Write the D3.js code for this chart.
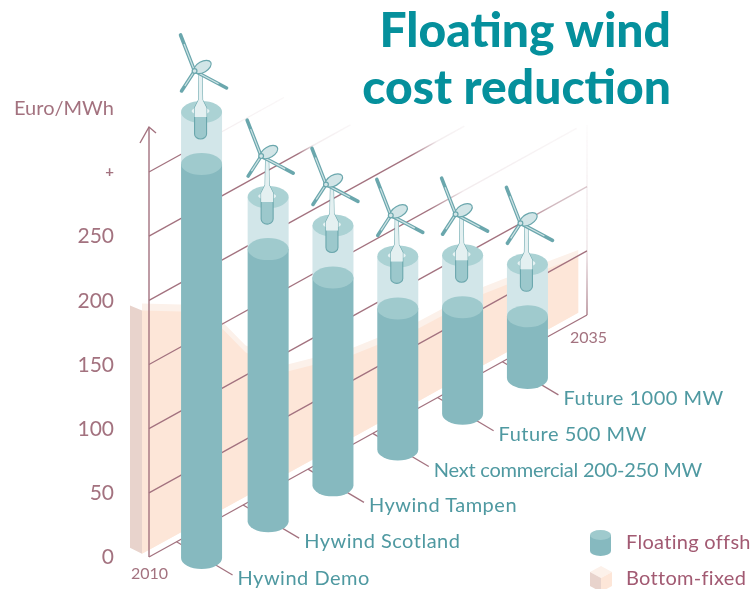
<!DOCTYPE html>
<html>
<head>
<meta charset="utf-8">
<script src="https://cdnjs.cloudflare.com/ajax/libs/d3/7.8.5/d3.min.js"></script>
<style>
  html, body { margin: 0; padding: 0; background: #fff; overflow: hidden; }
  text { font-family: Lato, sans-serif; }
</style>
</head>
<body>
<div id="chart"></div>
<script>
// Data
const projects = ["Hywind Demo", "Hywind Scotland", "Hywind Tampen", "Next commercial 200-250 MW", "Future 500 MW", "Future 1000 MW"];
const projectYears = [2013.0, 2016.8, 2020.5, 2024.2, 2027.9, 2031.6];
const floatingCost = [307, 212, 162, 110, 83, 48];

const bottomFixedYears = [2009.6, 2012.9, 2014.2, 2015.5, 2017.9, 2021.6, 2025.4, 2029.1, 2032.8, 2034.5];
const bottomFixedCost = [195, 169, 146, 118, 85, 70, 62, 61, 53, 49];

const costTicks = [0, 50, 100, 150, 200, 250, 300];
const gridLevels = [50, 100, 150, 200, 250, 300];
const gridEndYears = [2035, 2035, 2034.4, 2028, 2021.5, 2017.7];
const gridFadeYears = [2035, 2031, 2026, 2025, 2018.5, 2012.2];
const yearLabels = [2010, 2035];
const titleLines = ["Floating wind", "cost reduction"];
// the source is cropped at the right edge, only this much of the legend is in frame
const legendLabels = ["Floating offsh", "Bottom-fixed"];

const width = 754, height = 589;

// Oblique projection: year runs up and to the right along the floor
const x = d3.scaleLinear().domain([2010, 2035]).range([149, 587]);
const floorY = d3.scaleLinear().domain([2010, 2035]).range([557, 315]);
const axisY = d3.scaleLinear().domain([0, 300]).range([557, 172]);
const rise = v => axisY(0) - axisY(v);

const teal = "#86b9bf", tealTop = "#9fcacd", ghost = "#d2e6e9", ghostTop = "#abd2d4", tealLine = "#6ba7ad";
const peach = "#fde6d8", peachTop = "#fcf1ea", peachSide = "#e8d3cc";
const mauve = "#a3727f", labelTeal = "#4f99a1";

const svg = d3.select("#chart").append("svg")
    .attr("width", width)
    .attr("height", height)
    .style("display", "block");

const defs = svg.append("defs");
defs.append("filter").attr("id", "soft")
    .append("feGaussianBlur").attr("stdDeviation", 0.45);

const chart = svg.append("g").attr("filter", "url(#soft)");

// Bottom-fixed band
const band = bottomFixedYears.map((year, i) => ({ year, cost: bottomFixedCost[i] }));
const bandTop = d3.area()
    .x(d => x(d.year))
    .y0(d => floorY(d.year) - 7)
    .y1(d => floorY(d.year) - rise(d.cost) - 7);
const bandFace = d3.area()
    .x(d => x(d.year))
    .y0(d => floorY(d.year) - 7)
    .y1(d => floorY(d.year) - rise(d.cost));

chart.append("path").datum(band).attr("d", bandTop).attr("fill", peachTop);
chart.append("path").datum(band).attr("d", bandFace).attr("fill", peach);

const first = band[0];
const sideLine = d3.line();
chart.append("path")
    .attr("d", sideLine([
        [x(first.year) - 12, floorY(first.year) - rise(first.cost) - 5],
        [x(first.year), floorY(first.year) - rise(first.cost)],
        [x(first.year), floorY(first.year) - 7],
        [x(first.year) - 12, floorY(first.year) - 13]
    ]) + "Z")
    .attr("fill", peachSide);

// Receding gridlines, they fade towards the back wall
gridLevels.forEach((level, i) => {
    const id = "gridFade" + level;
    const x0 = x(2010), x1 = x(gridEndYears[i]);
    const fade = (x(gridFadeYears[i]) - x0) / (x1 - x0);
    const grad = defs.append("linearGradient").attr("id", id)
        .attr("gradientUnits", "userSpaceOnUse")
        .attr("x1", x0).attr("x2", x1).attr("y1", 0).attr("y2", 0);
    grad.append("stop").attr("offset", 0).attr("stop-color", mauve);
    grad.append("stop").attr("offset", fade).attr("stop-color", mauve);
    grad.append("stop").attr("offset", Math.min(1, fade + 0.08)).attr("stop-color", mauve).attr("stop-opacity", level > 100 ? 0.14 : 0.5);
    grad.append("stop").attr("offset", 1).attr("stop-color", mauve).attr("stop-opacity", level > 100 ? 0.06 : 0.4);

    chart.append("line")
        .attr("x1", x0).attr("y1", axisY(level))
        .attr("x2", x1).attr("y2", axisY(level) - (floorY(2010) - floorY(gridEndYears[i])))
        .attr("stroke", `url(#${id})`)
        .attr("stroke-width", 1.3);
});

// Floor line and back wall
chart.append("line")
    .attr("x1", x(2010)).attr("y1", floorY(2010))
    .attr("x2", x(2035)).attr("y2", floorY(2035))
    .attr("stroke", mauve).attr("stroke-width", 1.3);

const wallGrad = defs.append("linearGradient").attr("id", "wallFade")
    .attr("gradientUnits", "userSpaceOnUse")
    .attr("x1", 0).attr("x2", 0).attr("y1", floorY(2035)).attr("y2", 125);
wallGrad.append("stop").attr("offset", 0).attr("stop-color", mauve);
wallGrad.append("stop").attr("offset", 0.35).attr("stop-color", mauve).attr("stop-opacity", 0.2);
wallGrad.append("stop").attr("offset", 1).attr("stop-color", mauve).attr("stop-opacity", 0.03);

chart.append("rect")
    .attr("x", x(2035) - 0.65).attr("y", 125)
    .attr("width", 1.3).attr("height", floorY(2035) - 125)
    .attr("fill", "url(#wallFade)");

// Cost axis
const yAxis = d3.axisLeft(axisY)
    .tickValues(costTicks)
    .tickSize(0)
    .tickPadding(35)
    .tickFormat(d => d === 300 ? "+" : d);

const axisG = chart.append("g")
    .attr("transform", `translate(${x(2010)},0)`)
    .call(yAxis);
axisG.select(".domain").remove();
axisG.selectAll("text")
    .attr("font-size", d => d === 300 ? 15 : 21)
    .attr("font-weight", d => d === 300 ? 700 : 400)
    .attr("font-family", "Lato, sans-serif")
    .attr("fill", mauve);

chart.append("line")
    .attr("x1", x(2010)).attr("y1", floorY(2010))
    .attr("x2", x(2010)).attr("y2", 127)
    .attr("stroke", mauve).attr("stroke-width", 1.4);
chart.append("path")
    .attr("d", `M${x(2010) - 9},143 L${x(2010)},127 L${x(2010) + 7},133`)
    .attr("fill", "none").attr("stroke", mauve).attr("stroke-width", 1.4);

chart.append("text")
    .attr("x", 14).attr("y", 115)
    .attr("font-size", 20).attr("fill", mauve)
    .text("Euro/MWh");

chart.selectAll(".year-label")
    .data(yearLabels)
    .join("text")
    .attr("class", "year-label")
    .attr("x", d => d === 2010 ? 131 : 570)
    .attr("y", d => d === 2010 ? 579 : 343)
    .attr("font-size", 16)
    .attr("fill", mauve)
    .text(d => d);

// One cylinder per project
const rx = 20.5, ry = 11, ghostHeight = 52, floorOffset = 30;
const rows = projects.map((name, i) => {
    const cx = x(projectYears[i]);
    const base = floorY(projectYears[i]) + floorOffset;
    const top = base - rise(floatingCost[i]);
    return { name, cx, base, top, ghostY: top - ghostHeight };
});

// leader lines run behind the cylinders from the floor to the label
chart.selectAll(".leader")
    .data(rows)
    .join("line")
    .attr("class", "leader")
    .attr("x1", d => d.cx - 25)
    .attr("y1", d => floorY(x.invert(d.cx - 25)))
    .attr("x2", d => d.cx + 31)
    .attr("y2", d => d.base + 17)
    .attr("stroke", mauve)
    .attr("stroke-width", 1.3);

chart.selectAll(".project-label")
    .data(rows)
    .join("text")
    .attr("class", "project-label")
    .attr("x", d => d.cx + 36)
    .attr("y", d => d.base + 27)
    .attr("font-size", 20)
    .attr("letter-spacing", 0.5)
    .attr("textLength", d => d.name.startsWith("Next") ? 269 : null)
    .attr("fill", labelTeal)
    .text(d => d.name);

const cyl = chart.selectAll(".cylinder")
    .data(rows)
    .join("g")
    .attr("class", "cylinder")
    .attr("transform", d => `translate(${d.cx},0)`);

// ghost cylinder above the solid one
cyl.append("rect")
    .attr("x", -rx).attr("width", 2 * rx)
    .attr("y", d => d.ghostY)
    .attr("height", ghostHeight)
    .attr("fill", ghost);
cyl.append("ellipse")
    .attr("rx", rx).attr("ry", ry)
    .attr("cy", d => d.ghostY)
    .attr("fill", ghostTop);

// solid body
cyl.append("path")
    .attr("d", d => `M${-rx},${d.top} V${d.base} A${rx},${ry} 0 0 0 ${rx},${d.base} V${d.top} Z`)
    .attr("fill", teal);
cyl.append("ellipse")
    .attr("rx", rx).attr("ry", ry)
    .attr("cy", d => d.top)
    .attr("fill", tealTop);

// turbine glyph, drawn relative to the top of the ghost cylinder
const turbine = cyl.append("g")
    .attr("transform", d => `translate(0,${d.ghostY})`);

turbine.append("ellipse")
    .attr("cx", -1).attr("cy", -1)
    .attr("rx", 9).attr("ry", 3.5)
    .attr("fill", "#e6f2f3");
turbine.append("path")
    .attr("d", "M-7,5 H5 V22 A6,5 0 0 1 -7,22 Z")
    .attr("fill", "#9cc8cc");
turbine.append("path")
    .attr("d", "M-2.5,-39 L-3,-12 L-7,-4 V22 A6,5 0 0 0 5,22 V-4 L1,-12 L0.5,-39")
    .attr("fill", "none")
    .attr("stroke", tealLine)
    .attr("stroke-width", 1.1);
turbine.append("path")
    .attr("d", "M-2.5,-39 L-3,-12 L-7,-4 V5 H5 V-4 L1,-12 L0.5,-39 Z")
    .attr("fill", "#e4f0f1");

const blades = [[-21, -77], [25, -24], [-20, -21]];
blades.forEach(tip => {
    turbine.append("line")
        .attr("x1", -7).attr("y1", -41)
        .attr("x2", tip[0]).attr("y2", tip[1])
        .attr("stroke", tealLine)
        .attr("stroke-width", 3.6)
        .attr("stroke-linecap", "round");
    turbine.append("line")
        .attr("x1", -7).attr("y1", -41)
        .attr("x2", tip[0] * 0.75 - 1.75).attr("y2", tip[1] * 0.75 - 10.25)
        .attr("stroke", "#cfe3e5")
        .attr("stroke-width", 1.2);
});
turbine.append("ellipse")
    .attr("cx", 1).attr("cy", -45)
    .attr("rx", 9.5).attr("ry", 5.4)
    .attr("transform", "rotate(-30 1 -45)")
    .attr("fill", "#d2e5e7")
    .attr("stroke", tealLine)
    .attr("stroke-width", 1.2);
turbine.append("circle")
    .attr("cx", -7).attr("cy", -41).attr("r", 2.4)
    .attr("fill", "#d2e5e7")
    .attr("stroke", tealLine)
    .attr("stroke-width", 1.2);

// Legend
const legend = chart.append("g");
legend.append("path")
    .attr("d", "M590,535 V551 A10.5,5 0 0 0 611,551 V535 Z")
    .attr("fill", teal);
legend.append("ellipse")
    .attr("cx", 600.5).attr("cy", 535).attr("rx", 10.5).attr("ry", 5)
    .attr("fill", tealTop);
legend.append("path").attr("d", "M601,566 L612,572 L601,578 L590,572 Z").attr("fill", peachTop);
legend.append("path").attr("d", "M590,572 L601,578 V592 L590,586 Z").attr("fill", peachSide);
legend.append("path").attr("d", "M612,572 L601,578 V592 L612,586 Z").attr("fill", peach);

legend.selectAll("text")
    .data(legendLabels)
    .join("text")
    .attr("x", 626)
    .attr("y", (d, i) => 549 + i * 36)
    .attr("font-size", 20)
    .attr("letter-spacing", 0.3)
    .attr("fill", "#a25a72")
    .text(d => d);

// Title sits on top, crisp
svg.selectAll(".title")
    .data(titleLines)
    .join("text")
    .attr("class", "title")
    .attr("x", 671)
    .attr("y", (d, i) => 47 + i * 56.5)
    .attr("text-anchor", "end")
    .attr("font-size", 48)
    .attr("font-weight", 900)
    .attr("fill", "#05909c")
    .text(d => d);
</script>
</body>
</html>
